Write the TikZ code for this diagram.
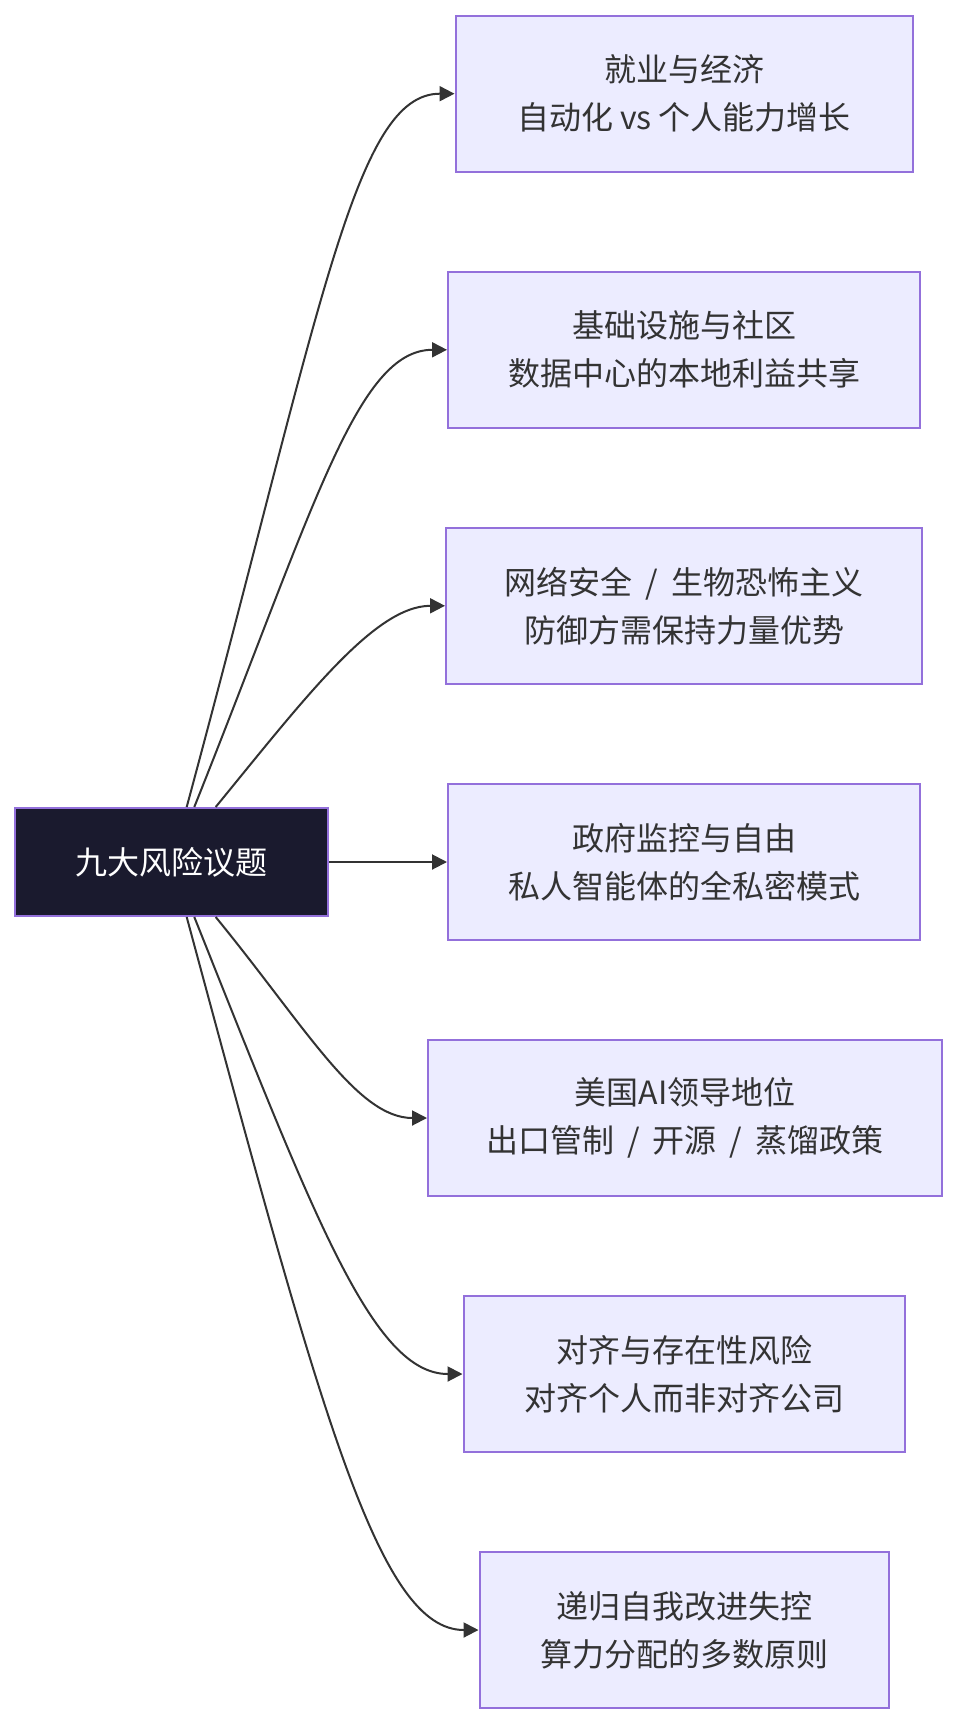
\documentclass[tikz,border=0pt]{standalone}
\usepackage{fontspec}
\setmainfont{Noto Sans CJK SC}
\usetikzlibrary{arrows.meta}
\definecolor{boxfill}{HTML}{ECECFF}
\definecolor{boxline}{HTML}{9370DB}
\definecolor{darkfill}{HTML}{1A1A2E}
\definecolor{edgec}{HTML}{333333}
\definecolor{textc}{HTML}{333333}
\newcommand{\sep}{\hspace{0.4em}/\hspace{0.4em}}
\tikzset{
  topic/.style={draw=boxline, line width=2pt, fill=boxfill, text=textc,
    minimum height=156pt, inner sep=0pt, align=center,
    font=\fontsize{32}{48}\selectfont},
  hub/.style={draw=boxline, line width=2pt, fill=darkfill, text=white,
    minimum width=313pt, minimum height=108pt, inner sep=0pt, align=center,
    font=\fontsize{32}{48}\selectfont},
  link/.style={draw=edgec, line width=2pt, -{Triangle[length=15pt,width=15pt]}}
}
\begin{document}
\begin{tikzpicture}[x=1pt, y=-1pt]
\fill[white] (0,0) rectangle (956,1724);
\useasboundingbox (0,0) rectangle (956,1724);

\node[hub] (c) at (171.5,862) {九大风险议题};

\node[topic, minimum width=457pt] (b1) at (684,93.7) {就业与经济\\自动化 vs 个人能力增长};
\node[topic, minimum width=472pt] (b2) at (684,349.8) {基础设施与社区\\数据中心的本地利益共享};
\node[topic, minimum width=476pt] (b3) at (684,605.8) {网络安全\sep 生物恐怖主义\\防御方需保持力量优势};
\node[topic, minimum width=472pt] (b4) at (684,862) {政府监控与自由\\私人智能体的全私密模式};
\node[topic, minimum width=514pt] (b5) at (685,1118) {美国AI领导地位\\出口管制\sep 开源\sep 蒸馏政策};
\node[topic, minimum width=441pt] (b6) at (684,1374) {对齐与存在性风险\\对齐个人而非对齐公司};
\node[topic, minimum width=409pt] (b7) at (684,1630) {递归自我改进失控\\算力分配的多数原则};

\draw[link] ([xshift=15.2pt]c.north) .. controls +(135,-500) and +(-100,0) .. (b1.west);
\draw[link] ([xshift=22.8pt]c.north) .. controls +(120,-300) and +(-90,0) .. (b2.west);
\draw[link] ([xshift=44.2pt]c.north) .. controls +(90,-110) and +(-70,0) .. (b3.west);
\draw[link] (c.east) -- (b4.west);
\draw[link] ([xshift=44.2pt]c.south) .. controls +(90,110) and +(-70,0) .. (b5.west);
\draw[link] ([xshift=22.8pt]c.south) .. controls +(120,300) and +(-90,0) .. (b6.west);
\draw[link] ([xshift=15.2pt]c.south) .. controls +(135,500) and +(-100,0) .. (b7.west);
\end{tikzpicture}
\end{document}
